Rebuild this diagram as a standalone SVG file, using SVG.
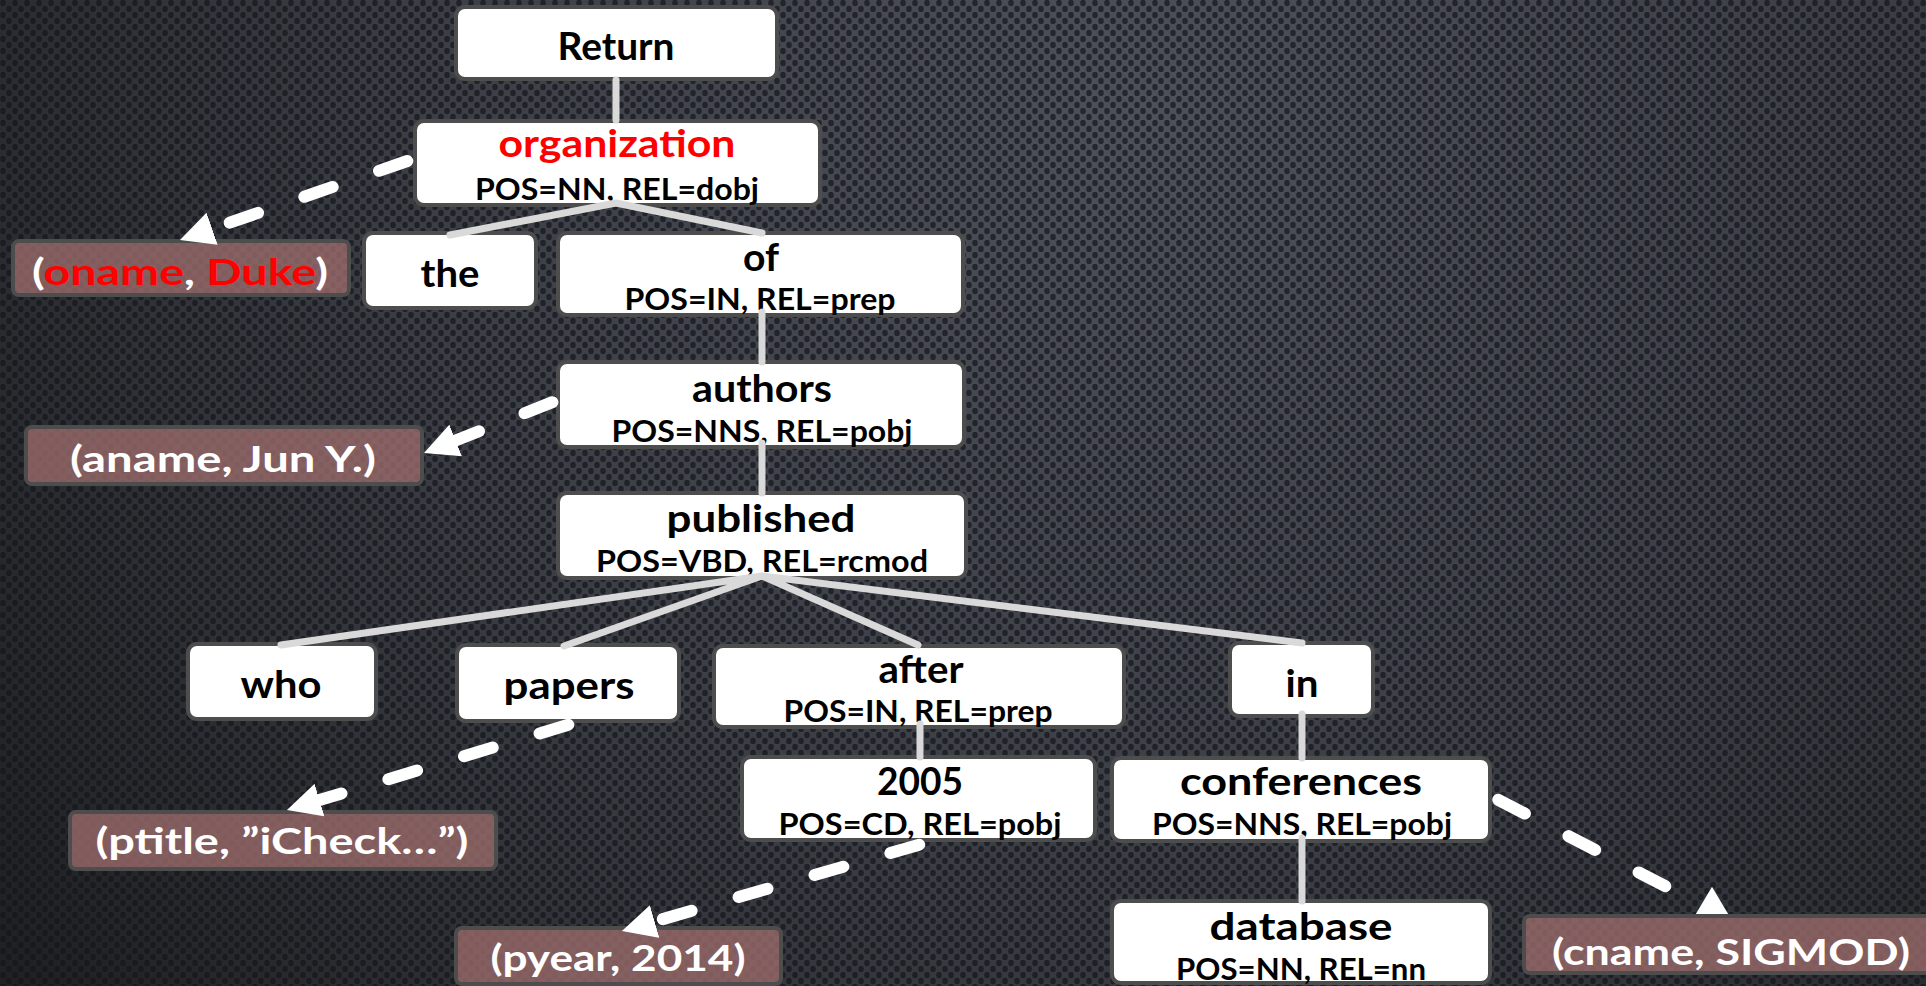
<svg xmlns="http://www.w3.org/2000/svg" xmlns:xlink="http://www.w3.org/1999/xlink" width="1926" height="986" viewBox="0 0 1926 986">
  <defs>
    <!-- perforated metal backdrop -->
    <radialGradient id="bgGrad" cx="1150" cy="120" r="1400" gradientUnits="userSpaceOnUse">
      <stop offset="0" stop-color="#4d515b"/>
      <stop offset="0.55" stop-color="#3a3d44"/>
      <stop offset="1" stop-color="#1f2124"/>
    </radialGradient>
    <pattern id="holes" width="12" height="12" patternUnits="userSpaceOnUse">
      <ellipse cx="3" cy="3" rx="2.8" ry="3.3" fill="#14161a" fill-opacity="0.7"/>
      <ellipse cx="9" cy="9" rx="2.8" ry="3.3" fill="#14161a" fill-opacity="0.7"/>
    </pattern>
    <path id="arrowhead" d="M0,-17 L34,0 L0,17 Z" fill="#ffffff"/>
    <marker id="ah" viewBox="0 -17 34 34" refX="0" refY="0" markerWidth="34" markerHeight="34" markerUnits="userSpaceOnUse" orient="auto">
      <use href="#arrowhead"/>
    </marker>
    <style>
      .node rect { fill: #ffffff; stroke: #4d4d4d; stroke-width: 4; }
      .val rect { fill: #9b6b6b; fill-opacity: 0.8; stroke: #4d4d4d; stroke-width: 4; }
      .t { font-family: Lato, "Liberation Sans", sans-serif; font-weight: 700; text-anchor: middle; }
      .main { font-size: 38px; fill: #000000; }
      .sub { font-size: 30px; fill: #000000; }
      .vt { font-size: 36px; fill: #ffffff; }
      .red { fill: #ff0000; }
      .edge { stroke: #d9d9d9; stroke-width: 7; fill: none; stroke-linecap: round; }
      .ref { stroke: #ffffff; stroke-width: 12; stroke-dasharray: 30 49; stroke-linecap: round; fill: none; }
      .ref.tip { marker-end: url(#ah); }
    </style>
  </defs>

  <rect width="1926" height="986" fill="url(#bgGrad)"/>
  <rect width="1926" height="986" fill="url(#holes)"/>

  <!-- parse-tree nodes -->
  <g id="n-return" class="node">
    <rect x="456" y="7" width="321" height="72" rx="9"/>
    <text class="t main" x="616" y="60" font-size="39" textLength="117" lengthAdjust="spacingAndGlyphs">Return</text>
  </g>
  <g id="n-organization" class="node">
    <rect x="415" y="121" width="405" height="84" rx="9"/>
    <text class="t main red" x="617" y="157" textLength="237" lengthAdjust="spacingAndGlyphs">organization</text>
    <text class="t sub" x="617" y="200" textLength="284" lengthAdjust="spacingAndGlyphs">POS=NN, REL=dobj</text>
  </g>
  <g id="n-the" class="node">
    <rect x="364" y="233" width="172" height="75" rx="9"/>
    <text class="t main" x="450" y="287" textLength="59" lengthAdjust="spacingAndGlyphs">the</text>
  </g>
  <g id="n-of" class="node">
    <rect x="558" y="233" width="405" height="82" rx="9"/>
    <text class="t main" x="761" y="271" textLength="36" lengthAdjust="spacingAndGlyphs">of</text>
    <text class="t sub" x="760" y="310" textLength="271" lengthAdjust="spacingAndGlyphs">POS=IN, REL=prep</text>
  </g>
  <g id="n-authors" class="node">
    <rect x="558" y="362" width="406" height="85" rx="9"/>
    <text class="t main" x="762" y="402" textLength="140" lengthAdjust="spacingAndGlyphs">authors</text>
    <text class="t sub" x="762" y="442" textLength="301" lengthAdjust="spacingAndGlyphs">POS=NNS, REL=pobj</text>
  </g>
  <g id="n-published" class="node">
    <rect x="558" y="493" width="408" height="85" rx="9"/>
    <text class="t main" x="761" y="532" textLength="189" lengthAdjust="spacingAndGlyphs">published</text>
    <text class="t sub" x="762" y="572" textLength="332" lengthAdjust="spacingAndGlyphs">POS=VBD, REL=rcmod</text>
  </g>
  <g id="n-who" class="node">
    <rect x="188" y="644" width="188" height="75" rx="9"/>
    <text class="t main" x="281" y="698" textLength="81" lengthAdjust="spacingAndGlyphs">who</text>
  </g>
  <g id="n-papers" class="node">
    <rect x="457" y="645" width="222" height="76" rx="9"/>
    <text class="t main" x="569" y="699" textLength="131" lengthAdjust="spacingAndGlyphs">papers</text>
  </g>
  <g id="n-after" class="node">
    <rect x="714" y="646" width="410" height="81" rx="9"/>
    <text class="t main" x="921" y="683" textLength="85" lengthAdjust="spacingAndGlyphs">after</text>
    <text class="t sub" x="918" y="722" textLength="269" lengthAdjust="spacingAndGlyphs">POS=IN, REL=prep</text>
  </g>
  <g id="n-in" class="node">
    <rect x="1230" y="643" width="143" height="73" rx="9"/>
    <text class="t main" x="1302" y="697" textLength="33" lengthAdjust="spacingAndGlyphs">in</text>
  </g>
  <g id="n-2005" class="node">
    <rect x="742" y="757" width="353" height="83" rx="9"/>
    <text class="t main" x="920" y="795" textLength="86" lengthAdjust="spacingAndGlyphs">2005</text>
    <text class="t sub" x="920" y="835" textLength="283" lengthAdjust="spacingAndGlyphs">POS=CD, REL=pobj</text>
  </g>
  <g id="n-conferences" class="node">
    <rect x="1112" y="758" width="378" height="83" rx="9"/>
    <text class="t main" x="1301" y="795" textLength="242" lengthAdjust="spacingAndGlyphs">conferences</text>
    <text class="t sub" x="1302" y="835" textLength="300" lengthAdjust="spacingAndGlyphs">POS=NNS, REL=pobj</text>
  </g>
  <g id="n-database" class="node">
    <rect x="1112" y="901" width="378" height="82" rx="9"/>
    <text class="t main" x="1301" y="940" textLength="183" lengthAdjust="spacingAndGlyphs">database</text>
    <text class="t sub" x="1301" y="980" textLength="250" lengthAdjust="spacingAndGlyphs">POS=NN, REL=nn</text>
  </g>

  <!-- attribute/value mappings -->
  <g id="v-oname" class="val">
    <rect x="13" y="241" width="336" height="54" rx="6"/>
    <text class="t vt" x="180" y="285" textLength="296" lengthAdjust="spacingAndGlyphs">(<tspan class="red">oname</tspan>, <tspan class="red">Duke</tspan>)</text>
  </g>
  <g id="v-aname" class="val">
    <rect x="26" y="427" width="396" height="57" rx="6"/>
    <text class="t vt" x="223" y="472" textLength="306" lengthAdjust="spacingAndGlyphs">(aname, Jun Y.)</text>
  </g>
  <g id="v-ptitle" class="val">
    <rect x="70" y="812" width="426" height="57" rx="6"/>
    <text class="t vt" x="282" y="854" textLength="373" lengthAdjust="spacingAndGlyphs">(ptitle, ”iCheck…”)</text>
  </g>
  <g id="v-pyear" class="val">
    <rect x="456" y="928" width="325" height="56" rx="6"/>
    <text class="t vt" x="618" y="971" textLength="255" lengthAdjust="spacingAndGlyphs">(pyear, 2014)</text>
  </g>
  <g id="v-cname" class="val">
    <rect x="1524" y="916" width="410" height="57" rx="6"/>
    <text class="t vt" x="1731" y="965" textLength="358" lengthAdjust="spacingAndGlyphs">(cname, SIGMOD)</text>
  </g>

  <!-- connectors: dependency edges and dashed value mappings -->
  <g id="connectors">
    <path class="edge" d="M616,80 V120"/>
    <path class="edge" d="M616,203 L450,235 M616,203 L762,233"/>
    <path class="edge" d="M762,312 V362"/>
    <path class="edge" d="M762,443 V493"/>
    <path class="edge" d="M762,576 L281,645 M762,576 L564,646 M762,576 L918,645 M762,576 L1302,643"/>
    <path class="edge" d="M920,724 V757"/>
    <path class="edge" d="M1302,714 V758"/>
    <path class="edge" d="M1302,838 V901"/>

    <path class="ref tip" d="M407.3,161 L212.1,228.8"/>
    <path class="ref tip" d="M552.4,402.2 L455.6,440.5"/>
    <path class="ref tip" d="M568.3,724.7 L319.5,800.1"/>
    <path class="ref tip" d="M919.2,844.7 L654.6,921.5"/>
    <path class="ref" d="M1498.3,799.8 L1690,899"/>
    <use href="#arrowhead" transform="translate(1712,914) rotate(-90) scale(0.8,0.95)"/>
  </g>
</svg>
